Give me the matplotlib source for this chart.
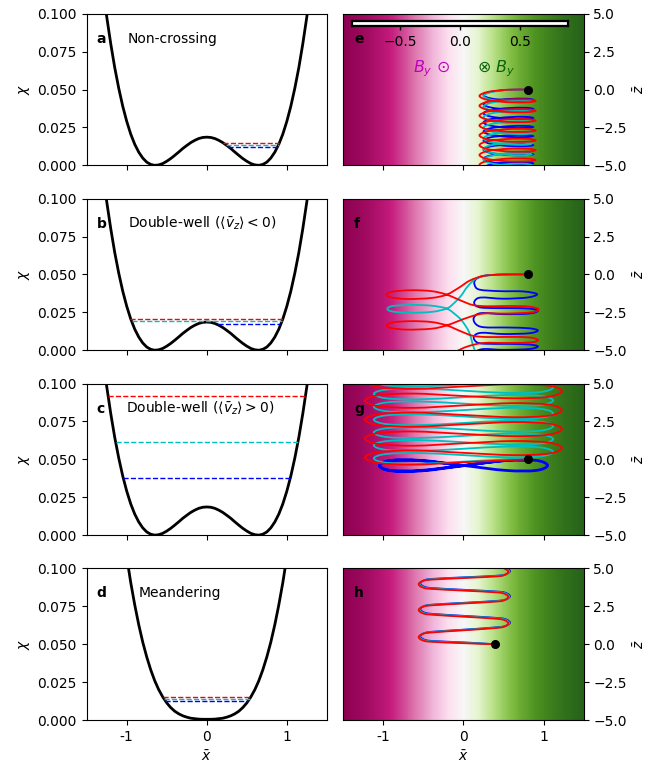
import numpy as np
import matplotlib.pyplot as plt
from matplotlib.path import Path
from matplotlib.patches import PathPatch

pot_x = [-1.30, -1.25, -1.20, -1.15, -1.10, -1.05, -1.00, -0.95, -0.90, -0.85, -0.80, -0.75,
         -0.70, -0.65, -0.60, -0.55, -0.50, -0.45, -0.40, -0.35, -0.30, -0.25, -0.20, -0.15,
         -0.10, -0.05, 0.00, 0.05, 0.10, 0.15, 0.20, 0.25, 0.30, 0.35, 0.40, 0.45, 0.50, 0.55,
         0.60, 0.65, 0.70, 0.75, 0.80, 0.85, 0.90, 0.95, 1.00, 1.05, 1.10, 1.15, 1.20, 1.25, 1.30]
chi_double = [0.1179, 0.0980, 0.0803, 0.0645, 0.0509, 0.0390, 0.0290, 0.0206, 0.0139, 0.0087,
              0.0048, 0.0021, 0.0006, 0.0000, 0.0003, 0.0012, 0.0027, 0.0045, 0.0066, 0.0088,
              0.0111, 0.0131, 0.0150, 0.0165, 0.0177, 0.0184, 0.0186, 0.0184, 0.0177, 0.0165,
              0.0150, 0.0131, 0.0111, 0.0088, 0.0066, 0.0045, 0.0027, 0.0012, 0.0003, 0.0000,
              0.0006, 0.0021, 0.0048, 0.0087, 0.0139, 0.0206, 0.0290, 0.0390, 0.0509, 0.0645,
              0.0803, 0.0980, 0.1179]
meander_x = [-1.10, -1.05, -1.00, -0.95, -0.90, -0.85, -0.80, -0.75, -0.70, -0.65, -0.60, -0.55,
             -0.50, -0.45, -0.40, -0.35, -0.30, -0.25, -0.20, -0.15, -0.10, -0.05, 0.00, 0.05,
             0.10, 0.15, 0.20, 0.25, 0.30, 0.35, 0.40, 0.45, 0.50, 0.55, 0.60, 0.65, 0.70, 0.75,
             0.80, 0.85, 0.90, 0.95, 1.00, 1.05, 1.10]
chi_meander = [0.1469, 0.1262, 0.1076, 0.0907, 0.0760, 0.0629, 0.0514, 0.0416, 0.0331, 0.0259,
               0.0200, 0.0152, 0.0113, 0.0082, 0.0058, 0.0041, 0.0028, 0.0019, 0.0012, 0.0009,
               0.0006, 0.0005, 0.0005, 0.0005, 0.0006, 0.0009, 0.0012, 0.0019, 0.0028, 0.0041,
               0.0058, 0.0082, 0.0113, 0.0152, 0.0200, 0.0259, 0.0331, 0.0416, 0.0514, 0.0629,
               0.0760, 0.0907, 0.1076, 0.1262, 0.1469]

# energy levels (red, cyan, blue) and the x range each dashed line covers
levels_a = [0.0148, 0.0137, 0.0123]
spans_a = [(0.20, 0.905), (0.235, 0.898), (0.27, 0.89)]
levels_b = [0.0207, 0.0192, 0.0170]
spans_b = [(-0.955, 0.955), (-0.94, 0.94), (0.14, 0.92)]
levels_c = [0.0916, 0.0615, 0.0378]
spans_c = [(-1.235, 1.235), (-1.14, 1.14), (-1.045, 1.045)]
levels_d = [0.0152, 0.0141, 0.0126]
spans_d = [(-0.55, 0.55), (-0.536, 0.536), (-0.517, 0.517)]

# background field B_y across x (samples every 0.1 from -1.5 to 1.5)
by_x = [-1.5, -1.4, -1.3, -1.2, -1.1, -1.0, -0.9, -0.8, -0.7, -0.6, -0.5, -0.4, -0.3, -0.2, -0.1,
        0.0, 0.1, 0.2, 0.3, 0.4, 0.5, 0.6, 0.7, 0.8, 0.9, 1.0, 1.1, 1.2, 1.3, 1.4, 1.5]
by_vals = [-0.905, -0.885, -0.862, -0.834, -0.800, -0.762, -0.716, -0.664, -0.604, -0.537,
           -0.462, -0.380, -0.291, -0.197, -0.100, 0.000, 0.100, 0.197, 0.291, 0.380, 0.462,
           0.537, 0.604, 0.664, 0.716, 0.762, 0.800, 0.834, 0.862, 0.885, 0.905]

e_red = [(0.80, 0.00), (0.55, -0.01), (0.30, -0.16), (0.20, -0.42), (0.30, -0.68), (0.55, -0.83), (0.80, -0.84), (0.90, -0.75),
         (0.80, -0.65), (0.55, -0.66), (0.30, -0.81), (0.20, -1.07), (0.30, -1.33), (0.55, -1.48), (0.80, -1.49), (0.90, -1.40),
         (0.80, -1.30), (0.55, -1.31), (0.30, -1.46), (0.20, -1.72), (0.30, -1.98), (0.55, -2.13), (0.80, -2.14), (0.90, -2.05),
         (0.80, -1.95), (0.55, -1.96), (0.30, -2.11), (0.20, -2.37), (0.30, -2.63), (0.55, -2.78), (0.80, -2.79), (0.90, -2.70),
         (0.80, -2.60), (0.55, -2.61), (0.30, -2.76), (0.20, -3.02), (0.30, -3.28), (0.55, -3.43), (0.80, -3.44), (0.90, -3.35),
         (0.80, -3.25), (0.55, -3.26), (0.30, -3.41), (0.20, -3.67), (0.30, -3.93), (0.55, -4.08), (0.80, -4.09), (0.90, -4.00),
         (0.80, -3.90), (0.55, -3.91), (0.30, -4.06), (0.20, -4.32), (0.30, -4.58), (0.55, -4.73), (0.80, -4.74), (0.90, -4.65),
         (0.80, -4.55), (0.55, -4.56), (0.30, -4.71), (0.20, -4.97), (0.30, -5.23), (0.55, -5.38)]
e_blue = [(0.80, 0.00), (0.56, -0.02), (0.34, -0.15), (0.25, -0.37), (0.34, -0.58), (0.56, -0.72), (0.78, -0.73), (0.87, -0.67),
          (0.78, -0.60), (0.56, -0.62), (0.34, -0.75), (0.25, -0.97), (0.34, -1.18), (0.56, -1.32), (0.78, -1.33), (0.87, -1.27),
          (0.78, -1.20), (0.56, -1.22), (0.34, -1.35), (0.25, -1.57), (0.34, -1.78), (0.56, -1.92), (0.78, -1.93), (0.87, -1.87),
          (0.78, -1.80), (0.56, -1.82), (0.34, -1.95), (0.25, -2.17), (0.34, -2.38), (0.56, -2.52), (0.78, -2.53), (0.87, -2.47),
          (0.78, -2.40), (0.56, -2.42), (0.34, -2.55), (0.25, -2.77), (0.34, -2.98), (0.56, -3.12), (0.78, -3.13), (0.87, -3.07),
          (0.78, -3.00), (0.56, -3.02), (0.34, -3.15), (0.25, -3.37), (0.34, -3.58), (0.56, -3.72), (0.78, -3.73), (0.87, -3.67),
          (0.78, -3.60), (0.56, -3.62), (0.34, -3.75), (0.25, -3.97), (0.34, -4.18), (0.56, -4.32), (0.78, -4.33), (0.87, -4.27),
          (0.78, -4.20), (0.56, -4.22), (0.34, -4.35), (0.25, -4.57), (0.34, -4.78), (0.56, -4.92), (0.78, -4.93), (0.87, -4.87),
          (0.78, -4.80), (0.56, -4.82), (0.34, -4.95), (0.25, -5.17), (0.34, -5.38)]
e_cyan = [(0.80, 0.00), (0.55, -0.02), (0.34, -0.18), (0.25, -0.42), (0.34, -0.66), (0.55, -0.81), (0.76, -0.84), (0.85, -0.77),
          (0.76, -0.70), (0.55, -0.72), (0.34, -0.88), (0.25, -1.12), (0.34, -1.36), (0.55, -1.51), (0.76, -1.54), (0.85, -1.47),
          (0.76, -1.40), (0.55, -1.42), (0.34, -1.58), (0.25, -1.82), (0.34, -2.06), (0.55, -2.21), (0.76, -2.24), (0.85, -2.17),
          (0.76, -2.10), (0.55, -2.12), (0.34, -2.28), (0.25, -2.52), (0.34, -2.76), (0.55, -2.91), (0.76, -2.94), (0.85, -2.87),
          (0.76, -2.80), (0.55, -2.82), (0.34, -2.98), (0.25, -3.22), (0.34, -3.46), (0.55, -3.61), (0.76, -3.64), (0.85, -3.57),
          (0.76, -3.50), (0.55, -3.52), (0.34, -3.68), (0.25, -3.92), (0.34, -4.16), (0.55, -4.31), (0.76, -4.34), (0.85, -4.27),
          (0.76, -4.20), (0.55, -4.22), (0.34, -4.38), (0.25, -4.62), (0.34, -4.86), (0.55, -5.01), (0.76, -5.04), (0.85, -4.97),
          (0.76, -4.90), (0.55, -4.92), (0.34, -5.08), (0.25, -5.32)]

f_red = [(0.80, 0.00), (0.50, 0.00), (0.25, -0.10), (0.08, -0.40), (-0.05, -0.85), (-0.21, -1.33),
         (-0.40, -1.55), (-0.70, -1.62), (-0.90, -1.52), (-0.96, -1.33), (-0.88, -1.13), (-0.65, -1.04),
         (-0.40, -1.10), (-0.21, -1.33), (-0.02, -1.75), (0.12, -2.02), (0.30, -2.10), (0.55, -2.08),
         (0.82, -2.12), (0.94, -2.30), (0.85, -2.50), (0.55, -2.58), (0.25, -2.58), (0.05, -2.85),
         (-0.21, -3.36), (-0.40, -3.58), (-0.70, -3.64), (-0.90, -3.54), (-0.96, -3.36), (-0.88, -3.16),
         (-0.65, -3.08), (-0.40, -3.14), (-0.21, -3.36), (-0.02, -3.78), (0.12, -4.05), (0.30, -4.13),
         (0.55, -4.12), (0.82, -4.15), (0.93, -4.32), (0.85, -4.48), (0.55, -4.52), (0.25, -4.52),
         (0.05, -4.75), (-0.10, -5.10)]
f_cyan = [(0.80, 0.00), (0.50, 0.00), (0.28, -0.08), (0.15, -0.30), (0.05, -0.80), (-0.03, -1.40),
          (-0.12, -1.90), (-0.21, -2.25), (-0.40, -2.47), (-0.70, -2.53), (-0.90, -2.43), (-0.95, -2.25),
          (-0.88, -2.08), (-0.65, -2.01), (-0.40, -2.06), (-0.21, -2.25), (-0.10, -2.65), (-0.02, -3.05),
          (0.07, -3.80), (0.12, -4.70), (0.15, -5.10)]
f_blue = [(0.80, 0.00), (0.50, 0.00), (0.26, -0.08), (0.15, -0.35), (0.14, -0.70), (0.20, -1.00),
          (0.45, -1.10), (0.75, -1.12), (0.92, -1.30), (0.80, -1.52), (0.50, -1.60), (0.22, -1.52),
          (0.14, -1.75), (0.15, -2.05), (0.25, -2.20), (0.55, -2.22), (0.82, -2.25), (0.93, -2.40),
          (0.82, -2.58), (0.50, -2.62), (0.22, -2.55), (0.13, -2.85), (0.15, -3.25), (0.25, -3.48),
          (0.55, -3.50), (0.82, -3.55), (0.93, -3.70), (0.82, -3.88), (0.50, -3.93), (0.22, -3.85),
          (0.13, -4.10), (0.16, -4.45), (0.26, -4.57), (0.55, -4.58), (0.82, -4.62), (0.93, -4.75),
          (0.82, -4.92), (0.50, -4.97), (0.25, -4.92), (0.14, -5.10)]

g_red = [(0.80, 0.00), (0.615, -0.04), (0.00, -0.19), (-0.615, -0.35), (-1.065, -0.24), (-1.23, 0.12),
         (-1.065, 0.48), (-0.615, 0.59), (0.00, 0.43), (0.615, 0.28), (1.065, 0.38),
         (1.23, 0.75), (1.065, 1.11), (0.615, 1.21), (0.00, 1.06), (-0.615, 0.90), (-1.065, 1.01),
         (-1.23, 1.37), (-1.065, 1.73), (-0.615, 1.84), (0.00, 1.68), (0.615, 1.53), (1.065, 1.63),
         (1.23, 2.00), (1.065, 2.36), (0.615, 2.46), (0.00, 2.31), (-0.615, 2.15), (-1.065, 2.26),
         (-1.23, 2.62), (-1.065, 2.98), (-0.615, 3.09), (0.00, 2.93), (0.615, 2.78), (1.065, 2.88),
         (1.23, 3.25), (1.065, 3.61), (0.615, 3.71), (0.00, 3.56), (-0.615, 3.40), (-1.065, 3.51),
         (-1.23, 3.87), (-1.065, 4.23), (-0.615, 4.34), (0.00, 4.18), (0.615, 4.03), (1.065, 4.13),
         (1.23, 4.50), (1.065, 4.86), (0.615, 4.96), (0.00, 4.81), (-0.615, 4.65), (-1.065, 4.76),
         (-1.23, 5.12)]
g_cyan = [(0.80, 0.00), (0.56, 0.00), (0.00, -0.15), (-0.56, -0.29), (-0.97, -0.22), (-1.12, 0.07),
          (-0.97, 0.35), (-0.56, 0.42), (0.00, 0.28), (0.56, 0.13), (0.97, 0.20),
          (1.12, 0.49), (0.97, 0.78), (0.56, 0.85), (0.00, 0.70), (-0.56, 0.56), (-0.97, 0.63),
          (-1.12, 0.92), (-0.97, 1.20), (-0.56, 1.27), (0.00, 1.13), (0.56, 0.98), (0.97, 1.05),
          (1.12, 1.34), (0.97, 1.63), (0.56, 1.70), (0.00, 1.55), (-0.56, 1.41), (-0.97, 1.48),
          (-1.12, 1.77), (-0.97, 2.05), (-0.56, 2.12), (0.00, 1.98), (0.56, 1.83), (0.97, 1.90),
          (1.12, 2.19), (0.97, 2.48), (0.56, 2.55), (0.00, 2.40), (-0.56, 2.26), (-0.97, 2.33),
          (-1.12, 2.62), (-0.97, 2.90), (-0.56, 2.97), (0.00, 2.83), (0.56, 2.68), (0.97, 2.75),
          (1.12, 3.04), (0.97, 3.33), (0.56, 3.40), (0.00, 3.25), (-0.56, 3.11), (-0.97, 3.18),
          (-1.12, 3.47), (-0.97, 3.75), (-0.56, 3.82), (0.00, 3.68), (0.56, 3.53), (0.97, 3.60),
          (1.12, 3.89), (0.97, 4.18), (0.56, 4.25), (0.00, 4.10), (-0.56, 3.96), (-0.97, 4.03),
          (-1.12, 4.32), (-0.97, 4.60), (-0.56, 4.67), (0.00, 4.53), (0.56, 4.38), (0.97, 4.45),
          (1.12, 4.74), (0.97, 5.03), (0.56, 5.10), (0.00, 4.95), (-0.56, 4.81), (-0.97, 4.88),
          (-1.12, 5.17)]
g_blue = [(0.80, -0.05), (0.53, -0.07), (0.00, -0.40), (-0.53, -0.73), (-0.91, -0.73), (-1.05, -0.40),
          (-0.91, -0.07), (-0.53, -0.07), (0.00, -0.40), (0.53, -0.73), (0.91, -0.73), (1.05, -0.40),
          (0.91, -0.07), (0.53, -0.07), (0.00, -0.42), (-0.53, -0.76), (-0.91, -0.75), (-1.05, -0.42),
          (-0.91, -0.09), (-0.53, -0.09), (0.00, -0.42)]

h_red = [(0.40, 0.00), (0.00, 0.07), (-0.42, 0.17), (-0.52, 0.28), (-0.56, 0.47), (-0.52, 0.66), (-0.42, 0.77),
         (0.00, 0.92), (0.42, 1.08), (0.52, 1.19), (0.56, 1.38), (0.52, 1.57), (0.42, 1.68),
         (0.00, 1.82), (-0.42, 1.96), (-0.52, 2.07), (-0.56, 2.26), (-0.52, 2.45), (-0.42, 2.56),
         (0.00, 2.69), (0.42, 2.82), (0.52, 2.93), (0.56, 3.12), (0.52, 3.31), (0.42, 3.42),
         (0.00, 3.54), (-0.42, 3.66), (-0.52, 3.77), (-0.56, 3.96), (-0.52, 4.15), (-0.42, 4.26),
         (0.00, 4.37), (0.42, 4.48), (0.52, 4.59), (0.56, 4.78), (0.52, 4.97), (0.42, 5.08), (-0.40, 5.20)]
h_cyan = [(0.40, 0.00), (0.01, 0.10), (-0.41, 0.20), (-0.51, 0.31), (-0.55, 0.50), (-0.51, 0.69), (-0.41, 0.80),
          (0.01, 0.95), (0.43, 1.11), (0.53, 1.22), (0.57, 1.41), (0.53, 1.60), (0.43, 1.71),
          (0.01, 1.85), (-0.41, 1.99), (-0.51, 2.10), (-0.55, 2.29), (-0.51, 2.48), (-0.41, 2.59),
          (0.01, 2.72), (0.43, 2.85), (0.53, 2.96), (0.57, 3.15), (0.53, 3.34), (0.43, 3.45),
          (0.01, 3.57), (-0.41, 3.69), (-0.51, 3.80), (-0.55, 3.99), (-0.51, 4.18), (-0.41, 4.29),
          (0.01, 4.40), (0.43, 4.51), (0.53, 4.62), (0.57, 4.81), (0.53, 5.00), (0.43, 5.11), (-0.39, 5.23)]
h_blue = [(0.40, 0.00), (0.02, 0.12), (-0.40, 0.22), (-0.50, 0.33), (-0.54, 0.52), (-0.50, 0.71), (-0.40, 0.82),
          (0.02, 0.97), (0.44, 1.13), (0.54, 1.24), (0.58, 1.43), (0.54, 1.62), (0.44, 1.73),
          (0.02, 1.87), (-0.40, 2.01), (-0.50, 2.12), (-0.54, 2.31), (-0.50, 2.50), (-0.40, 2.61),
          (0.02, 2.74), (0.44, 2.87), (0.54, 2.98), (0.58, 3.17), (0.54, 3.36), (0.44, 3.47),
          (0.02, 3.59), (-0.40, 3.71), (-0.50, 3.82), (-0.54, 4.01), (-0.50, 4.20), (-0.40, 4.31),
          (0.02, 4.42), (0.44, 4.53), (0.54, 4.64), (0.58, 4.83), (0.54, 5.02), (0.44, 5.13), (-0.38, 5.25)]

start_points = [(0.80, 0.00), (0.80, 0.00), (0.80, 0.00), (0.40, 0.00)]

left_letters = ['a', 'b', 'c', 'd']
right_letters = ['e', 'f', 'g', 'h']
left_titles = ['Non-crossing',
               r'Double-well ($\langle\bar{v}_z\rangle < 0$)',
               r'Double-well ($\langle\bar{v}_z\rangle > 0$)',
               'Meandering']
title_x = [0.17, 0.173, 0.164, 0.215]

potentials = [(pot_x, chi_double), (pot_x, chi_double), (pot_x, chi_double), (meander_x, chi_meander)]
levels = [levels_a, levels_b, levels_c, levels_d]
spans = [spans_a, spans_b, spans_c, spans_d]
trajs = [(e_blue, e_cyan, e_red), (f_blue, f_cyan, f_red), (g_blue, g_cyan, g_red), (h_blue, h_cyan, h_red)]
traj_colors = ['b', 'c', 'r']
level_colors = ['r', 'c', 'b']


def smooth_path(points):
    # smooth curve through the traced points (Catmull-Rom drawn as cubic Bezier pieces)
    p = np.asarray(points, dtype=float)
    q = np.vstack([p[0], p, p[-1]])
    verts = [p[0]]
    codes = [Path.MOVETO]
    for i in range(1, len(q) - 2):
        p0, p1, p2, p3 = q[i - 1], q[i], q[i + 1], q[i + 2]
        verts += [p1 + (p2 - p0) / 6.0, p2 - (p3 - p1) / 6.0, p2]
        codes += [Path.CURVE4] * 3
    return Path(verts, codes)


fig = plt.figure(figsize=(6.52, 7.66), dpi=100)
gs = fig.add_gridspec(4, 2, left=0.133, right=0.895, top=0.982, bottom=0.060,
                      wspace=0.069, hspace=0.22)

for row in range(4):
    # left: potential with energy levels
    ax = fig.add_subplot(gs[row, 0])
    px, pchi = potentials[row]
    ax.plot(px, pchi, 'k-', lw=2)
    for lev, (lo, hi), col in zip(levels[row], spans[row], level_colors):
        ax.plot([lo, hi], [lev, lev], '--', color=col, lw=1)
    ax.set_xlim(-1.5, 1.5)
    ax.set_ylim(0, 0.1)
    ax.set_yticks([0, 0.025, 0.05, 0.075, 0.1])
    ax.set_xticks([-1, 0, 1])
    ax.set_ylabel(r'$\chi$')
    ax.text(0.042, 0.835, left_letters[row], transform=ax.transAxes, fontweight='bold',
            fontsize=10, va='center')
    ax.text(title_x[row], 0.835, left_titles[row], transform=ax.transAxes, fontsize=10,
            va='center')
    if row == 3:
        ax.set_xticklabels(['-1', '0', '1'])
        ax.set_xlabel(r'$\bar{x}$')
    else:
        ax.tick_params(labelbottom=False)

    # right: trajectories over B_y background
    ax = fig.add_subplot(gs[row, 1])
    ax.imshow([by_vals], extent=[by_x[0] - 0.05, by_x[-1] + 0.05, -5, 5], aspect='auto',
              cmap='PiYG', vmin=by_vals[0], vmax=by_vals[-1], origin='lower',
              interpolation='bilinear', zorder=0)
    for tr, col in zip(trajs[row], traj_colors):
        lw = 2.0 if (row == 2 and col == 'b') else 1.3
        ax.add_patch(PathPatch(smooth_path(tr), fill=False, edgecolor=col, lw=lw, zorder=2))
    sx, sz = start_points[row]
    ax.plot(sx, sz, 'ko', ms=5.5, zorder=4)
    ax.set_xlim(-1.5, 1.5)
    ax.set_ylim(-5, 5)
    ax.yaxis.tick_right()
    ax.yaxis.set_label_position('right')
    ax.set_yticks([-5, -2.5, 0, 2.5, 5])
    ax.set_ylabel(r'$\bar{z}$')
    ax.set_xticks([-1, 0, 1])
    ax.text(0.045, 0.835, right_letters[row], transform=ax.transAxes, fontweight='bold',
            fontsize=10, va='center', zorder=5)
    if row == 3:
        ax.set_xticklabels(['-1', '0', '1'])
        ax.set_xlabel(r'$\bar{x}$')
    else:
        ax.tick_params(labelbottom=False)

    if row == 0:
        # thin colour-bar style scale at the top of panel e
        cax = ax.inset_axes([0.036, 0.922, 0.9, 0.028])
        cax.set_facecolor('white')
        cax.set_xlim(by_vals[0], by_vals[-1])
        cax.set_xticks([-0.5, 0, 0.5])
        cax.set_yticks([])
        cax.tick_params(labelsize=10, length=3, width=1)
        for sp in cax.spines.values():
            sp.set_linewidth(1.6)
        ax.text(-0.17, 1.4, r'$B_y$ $\odot$', color='#c000c0', fontsize=11.5,
                ha='right', va='center')
        ax.text(0.17, 1.4, r'$\otimes$ $B_y$', color='#0a640a', fontsize=11.5,
                ha='left', va='center')

fig.savefig('out.png', dpi=100)
